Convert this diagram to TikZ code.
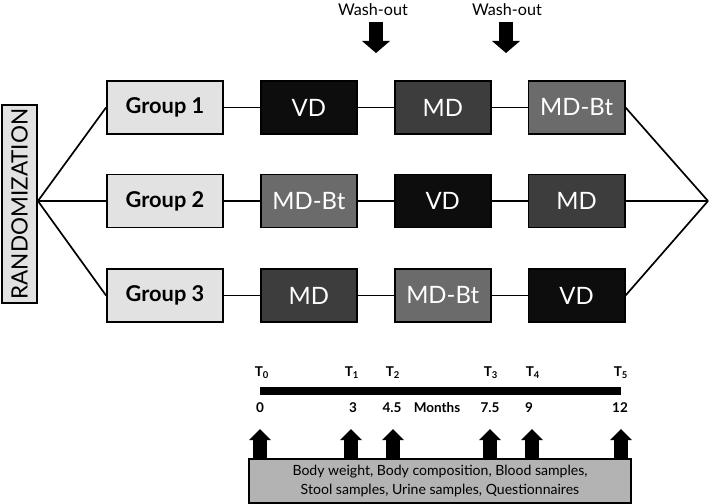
\documentclass[tikz,border=0pt]{standalone}
\usepackage{fontspec}
\setmainfont{Lato}
\usepackage{xcolor}
\usetikzlibrary{positioning,arrows.meta}
\definecolor{vdgray}{HTML}{0D0D0D}
\definecolor{mdgray}{HTML}{3D3D3D}
\definecolor{btgray}{HTML}{6B6B6B}
\definecolor{lightbox}{HTML}{E2E2E2}
\definecolor{infogray}{HTML}{B3B3B3}
\tikzstyle{randbox} = [rectangle, draw, line width=1.3pt, fill=lightbox, rotate=90, minimum width=4.95cm, minimum height=0.875cm, inner sep=0pt, font=\fontsize{16}{19}\selectfont]
\tikzstyle{group} = [rectangle, draw, line width=1.3pt, fill=lightbox, minimum width=2.9cm, minimum height=1.325cm, font=\fontsize{15.5}{18}\selectfont\bfseries]
\tikzstyle{diet} = [rectangle, draw, line width=1.3pt, text=white, minimum width=2.4cm, minimum height=1.325cm, font=\fontsize{17}{20}\selectfont]
\tikzstyle{infobox} = [rectangle, draw, line width=1.3pt, fill=infogray, minimum width=9.55cm, minimum height=1.1cm, align=center, font=\fontsize{10}{13.5}\selectfont]
\tikzstyle{tlab} = [inner sep=1pt, font=\fontsize{9.6}{11}\selectfont\bfseries]
\tikzstyle{washarrow} = [line width=0.33cm, -{Triangle[length=0.3cm 0 0, width=0.7cm 0 0, line width=0pt 0 0]}]
\tikzstyle{samplearrow} = [line width=0.33cm, -{Triangle[length=0.28cm 0 0, width=0.55cm 0 0, line width=0pt 0 0]}]

\begin{document}
\begin{tikzpicture}[x=0.025cm,y=-0.025cm,node distance=0.9cm,line width=1.2pt]
  \useasboundingbox (0,0) rectangle (709,504);

  % randomization and groups
  \node[randbox] (R) at (19.5,204) {RANDOMIZATION};
  \node[group] (G1) at (165,107.5) {Group 1};
  \node[group] (G2) at (165,201) {Group 2};
  \node[group] (G3) at (165,295.5) {Group 3};
  \coordinate (split) at (R.south |- G2.west);
  \coordinate (merge) at (708,201);

  % diet sequences
  \node[diet, fill=vdgray] (VD1) [right=of G1] {VD};
  \node[diet, fill=mdgray] (MD1) [right=of VD1] {MD};
  \node[diet, fill=btgray] (BT1) [right=of MD1] {MD-Bt};
  \node[diet, fill=btgray] (BT2) [right=of G2] {MD-Bt};
  \node[diet, fill=vdgray] (VD2) [right=of BT2] {VD};
  \node[diet, fill=mdgray] (MD2) [right=of VD2] {MD};
  \node[diet, fill=mdgray] (MD3) [right=of G3] {MD};
  \node[diet, fill=btgray] (BT3) [right=of MD3] {MD-Bt};
  \node[diet, fill=vdgray] (VD3) [right=of BT3] {VD};

  \draw (split) -- (G1.west);
  \draw (split) -- (G2.west);
  \draw (split) -- (G3.west);
  \draw (G1) -- (VD1) -- (MD1) -- (BT1);
  \draw (G2) -- (BT2) -- (VD2) -- (MD2);
  \draw (G3) -- (MD3) -- (BT3) -- (VD3);
  \draw (BT1.east) -- (merge);
  \draw (MD2.east) -- (merge);
  \draw (VD3.east) -- (merge);

  % wash-out
  \node[font=\fontsize{11.5}{14}\selectfont] (W1) at (373,10) {Wash-out};
  \node[font=\fontsize{11.5}{14}\selectfont] (W2) at (507,10) {Wash-out};
  \coordinate (W1tip) at (376,53);
  \coordinate (W2tip) at (506,53);
  \draw[washarrow] (W1tip |- 0,22) -- (W1tip);
  \draw[washarrow] (W2tip |- 0,22) -- (W2tip);

  % timeline
  \coordinate (t0) at (260,391);
  \coordinate (t1) at (352,391);
  \coordinate (t2) at (393,391);
  \coordinate (t3) at (490,391);
  \coordinate (t4) at (531,391);
  \coordinate (t5) at (621,391);
  \draw[line width=0.18cm] (t0) -- (t5);
  \node[tlab] (T0) at (262,373) {T\textsubscript{0}};
  \node[tlab] (T1) at (352,373) {T\textsubscript{1}};
  \node[tlab] (T2) at (393,373) {T\textsubscript{2}};
  \node[tlab] (T3) at (491,373) {T\textsubscript{3}};
  \node[tlab] (T4) at (533,373) {T\textsubscript{4}};
  \node[tlab] (T5) at (621,373) {T\textsubscript{5}};
  \node[tlab] (m0) at (260,408) {0};
  \node[tlab] (m1) at (353,408) {3};
  \node[tlab] (m2) at (392,408) {4.5};
  \node[tlab] (months) at (437,408) {Months};
  \node[tlab] (m3) at (490,408) {7.5};
  \node[tlab] (m4) at (529,408) {9};
  \node[tlab] (m5) at (620,408) {12};

  % measurements
  \node[infobox] (M) at (440,481) {Body weight, Body composition, Blood samples,\\Stool samples, Urine samples, Questionnaires};
  \coordinate (a0) at (260,429);
  \coordinate (a1) at (351,429);
  \coordinate (a2) at (393,429);
  \coordinate (a3) at (490,429);
  \coordinate (a4) at (532,429);
  \coordinate (a5) at (621,429);
  \draw[samplearrow] (M.north -| a0) -- (a0);
  \draw[samplearrow] (M.north -| a1) -- (a1);
  \draw[samplearrow] (M.north -| a2) -- (a2);
  \draw[samplearrow] (M.north -| a3) -- (a3);
  \draw[samplearrow] (M.north -| a4) -- (a4);
  \draw[samplearrow] (M.north -| a5) -- (a5);
\end{tikzpicture}
\end{document}
